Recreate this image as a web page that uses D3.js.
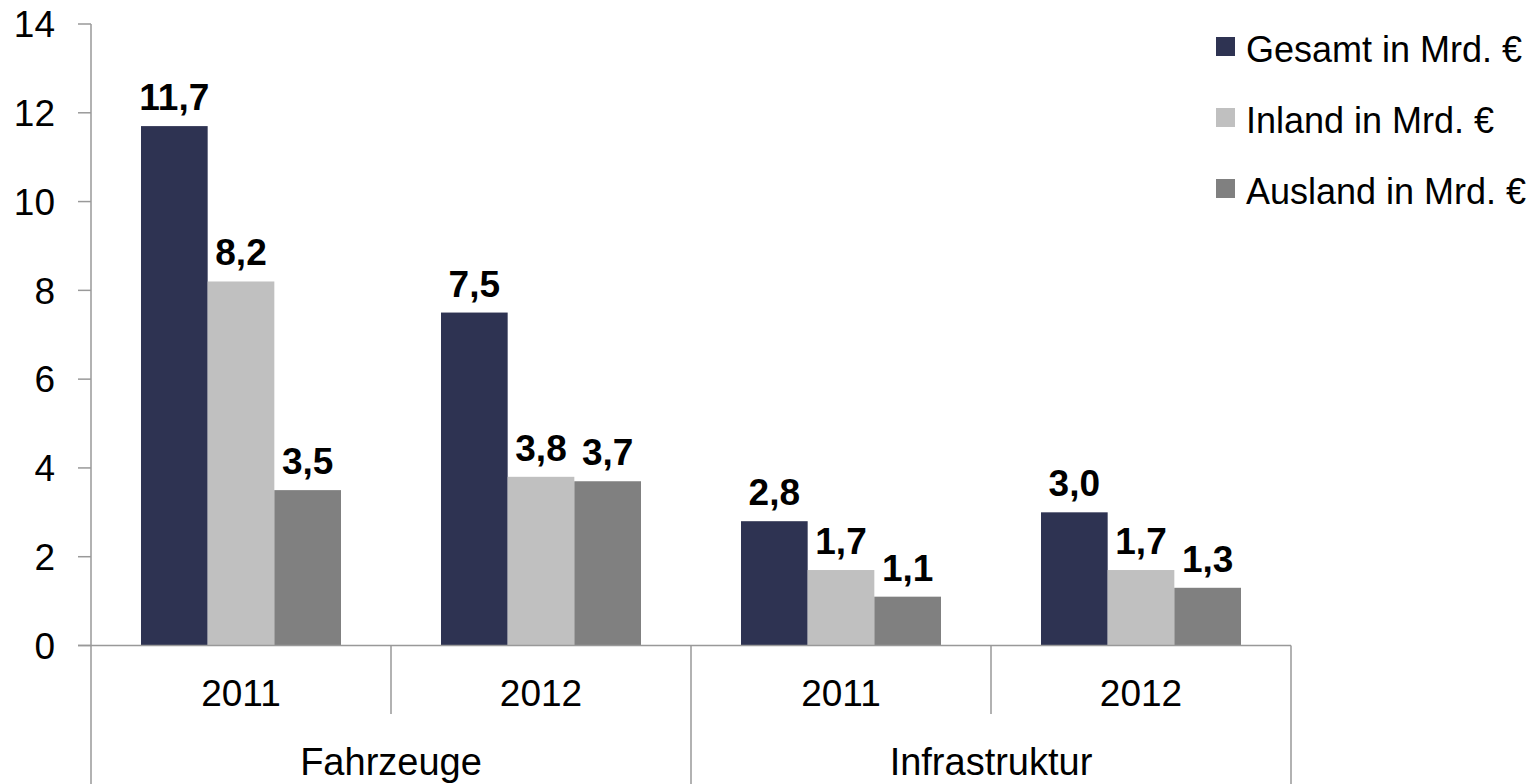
<!DOCTYPE html>
<html><head><meta charset="utf-8">
<script src="https://cdn.jsdelivr.net/npm/d3@7"></script>
<style>body{margin:0;background:#fff}svg{display:block}text{font-family:"Liberation Sans",Arial,sans-serif}</style>
</head><body>
<svg id="c" width="1540" height="784"></svg>
<script>
const outerCats = ["Fahrzeuge", "Infrastruktur"];
const years = ["2011", "2012", "2011", "2012"];
const seriesNames = ["Gesamt in Mrd. €", "Inland in Mrd. €", "Ausland in Mrd. €"];
const gesamt = [11.7, 7.5, 2.8, 3.0];
const inland = [8.2, 3.8, 1.7, 1.7];
const ausland = [3.5, 3.7, 1.1, 1.3];
const colors = ["#2e3352", "#c0c0c0", "#808080"];
const yTicks = [0, 2, 4, 6, 8, 10, 12, 14];

const svg = d3.select("#c");
const axisColor = "#999";
const y = d3.scaleLinear().domain([0, 14]).range([645.5, 24]);
const x = d3.scaleBand().domain(d3.range(4)).range([91, 1291]).padding(0);
const inner = d3.scaleBand().domain(d3.range(3)).range([50, x.bandwidth() - 50]).padding(0);
const series = [gesamt, inland, ausland];

// bars
const g = svg.append("g");
series.forEach((vals, si) => {
  g.selectAll(null).data(vals).enter().append("rect")
    .attr("x", (d, i) => x(i) + inner(si))
    .attr("y", d => y(d))
    .attr("width", inner.bandwidth())
    .attr("height", d => y(0) - y(d))
    .attr("fill", colors[si]);
  g.selectAll(null).data(vals).enter().append("text")
    .attr("x", (d, i) => x(i) + inner(si) + inner.bandwidth() / 2)
    .attr("y", d => y(d) - 16)
    .attr("text-anchor", "middle")
    .attr("font-size", 37).attr("font-weight", "bold").attr("fill", "#000")
    .text(d => d.toFixed(1).replace(".", ","));
});

// y axis
svg.append("line").attr("x1", 91).attr("x2", 91).attr("y1", y(14)).attr("y2", 784)
  .attr("stroke", axisColor).attr("stroke-width", 1.5);
svg.selectAll(".yt").data(yTicks).enter().append("line")
  .attr("x1", 78).attr("x2", 91).attr("y1", d => y(d)).attr("y2", d => y(d))
  .attr("stroke", axisColor).attr("stroke-width", 1.5);
svg.selectAll(".yl").data(yTicks).enter().append("text")
  .attr("x", 55).attr("y", d => y(d)).attr("dy", "0.36em")
  .attr("text-anchor", "end").attr("font-size", 37).attr("fill", "#000")
  .text(d => d);

// x axis
svg.append("line").attr("x1", 78).attr("x2", 1291).attr("y1", y(0)).attr("y2", y(0))
  .attr("stroke", axisColor).attr("stroke-width", 1.5);
[1, 3].forEach(i => {
  svg.append("line").attr("x1", x(i)).attr("x2", x(i)).attr("y1", y(0)).attr("y2", 714)
    .attr("stroke", axisColor).attr("stroke-width", 1.5);
});
[2].forEach(i => {
  svg.append("line").attr("x1", x(i)).attr("x2", x(i)).attr("y1", y(0)).attr("y2", 784)
    .attr("stroke", axisColor).attr("stroke-width", 1.5);
});
svg.append("line").attr("x1", 1291).attr("x2", 1291).attr("y1", y(0)).attr("y2", 784)
  .attr("stroke", axisColor).attr("stroke-width", 1.5);

svg.selectAll(".xl").data(years).enter().append("text")
  .attr("x", (d, i) => x(i) + x.bandwidth() / 2).attr("y", 706)
  .attr("text-anchor", "middle").attr("font-size", 37).attr("fill", "#000")
  .text(d => d);
svg.selectAll(".ol").data(outerCats).enter().append("text")
  .attr("x", (d, i) => x(i * 2) + x.bandwidth()).attr("y", 775)
  .attr("text-anchor", "middle").attr("font-size", 38).attr("fill", "#000")
  .text(d => d);

// legend
const lg = svg.append("g");
seriesNames.forEach((n, i) => {
  const cy = 46.5 + i * 71;
  lg.append("rect").attr("x", 1216).attr("y", cy - 9.5).attr("width", 19).attr("height", 19).attr("fill", colors[i]);
  lg.append("text").attr("x", 1246).attr("y", cy + 15.5).attr("font-size", 36).attr("fill", "#000")
    .text(n);
});
</script>
</body></html>
